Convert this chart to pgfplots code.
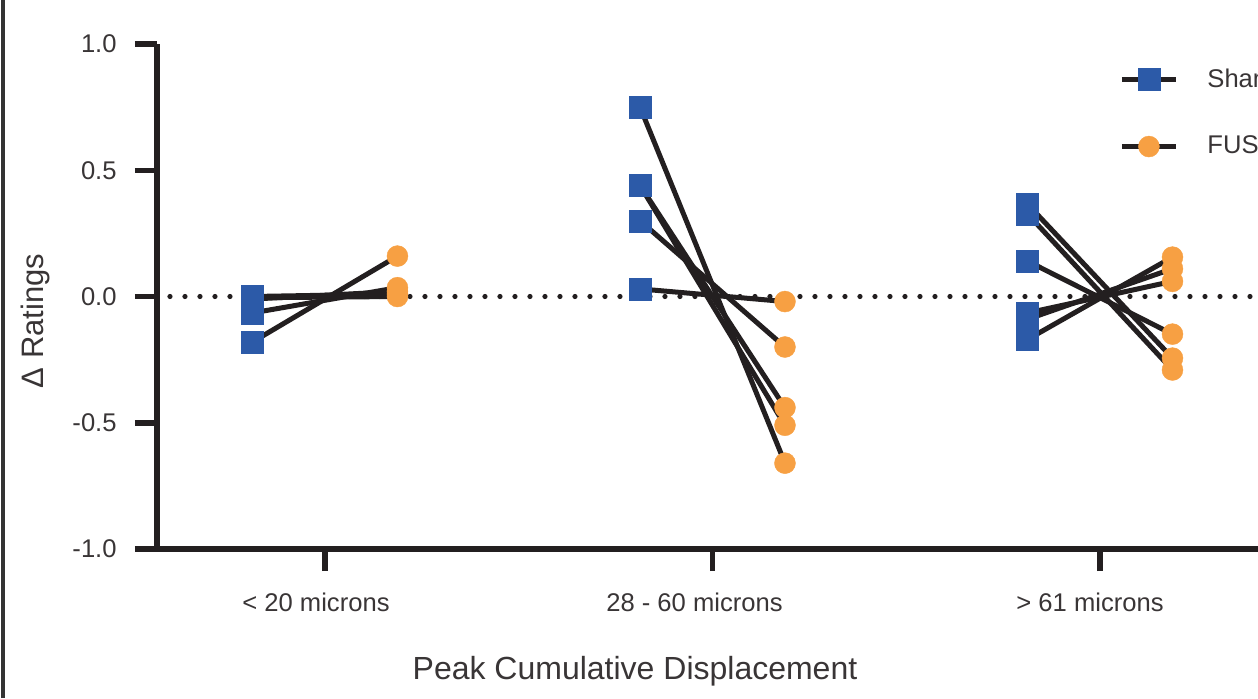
\documentclass[border=0pt]{standalone}
\usepackage{fontspec}
\setmainfont{Liberation Sans}
\usepackage{pgfplots}
\pgfplotsset{compat=1.18}
\definecolor{shamblue}{HTML}{2C5AA8}
\definecolor{fusorange}{HTML}{F7A043}
\definecolor{linek}{HTML}{231F20}
\begin{document}
\begin{tikzpicture}[x=1pt,y=1pt]
\path[use as bounding box] (0,0) rectangle (629,349);
\clip (0,0) rectangle (629,349);
\draw[line width=2pt, color=black!80] (1.6,0) -- (1.6,349);
\begin{axis}[
  at={(78.5pt,74.5pt)}, anchor=south west,
  scale only axis, width=555.5pt, height=252.5pt,
  xmin=-0.4335, xmax=2.4335, ymin=-1, ymax=1,
  axis x line*=bottom, axis y line*=left,
  axis line style={line width=2.75pt, color=linek},
  tick align=outside, major tick length=11pt,
  major tick style={line width=2.75pt, color=linek},
  minor tick num=0,
  xtick={0,1,2},
  xticklabels={\hspace*{-9pt}< 20 microns, \hspace*{-18pt}28 - 60 microns, \hspace*{-10pt}> 61 microns},
  ytick={-1,-0.5,0,0.5,1},
  yticklabels={-1.0,-0.5,0.0,0.5,1.0},
  ticklabel style={font=\fontsize{12.8}{15}\selectfont, color=linek!90},
  yticklabel style={anchor=east, inner sep=0pt, xshift=-9pt},
  xticklabel style={anchor=north, inner sep=0pt, yshift=-11pt},
  legend style={draw=none, fill=none, at={(0.8605,0.968)}, anchor=north west,
    font=\fontsize{12.8}{15}\selectfont, row sep=19pt, column sep=12.5pt,
    text=linek!90},
  legend cell align=left,
  legend image code/.code={
    \draw[linek, line width=2.5pt] (0pt,0pt) -- (27pt,0pt);
    \draw[#1] plot coordinates {(13.5pt,0pt)};
  },
  clip=false,
]
\draw[linek, line width=2.6pt, line cap=round, dash pattern=on 0pt off 7.5pt]
  (axis cs:-0.40,0) -- (axis cs:2.4335,0);
% group 1: < 20 microns
\addplot[linek, line width=2.5pt, no marks, forget plot] coordinates {(-0.187,-0.18) (0.187,0.16)};
\addplot[linek, line width=2.5pt, no marks, forget plot] coordinates {(-0.187,-0.065) (0.187,0.035)};
\addplot[linek, line width=2.5pt, no marks, forget plot] coordinates {(-0.187,-0.01) (0.187,0.02)};
\addplot[linek, line width=2.5pt, no marks, forget plot] coordinates {(-0.187,-0.005) (0.187,0.0)};
\addplot[linek, line width=2.5pt, no marks, forget plot] coordinates {(-0.187,0.0) (0.187,0.01)};
% group 2: 28 - 60 microns
\addplot[linek, line width=2.5pt, no marks, forget plot] coordinates {(0.813,0.75) (1.187,-0.66)};
\addplot[linek, line width=2.5pt, no marks, forget plot] coordinates {(0.813,0.44) (1.187,-0.51)};
\addplot[linek, line width=2.5pt, no marks, forget plot] coordinates {(0.813,0.44) (1.187,-0.44)};
\addplot[linek, line width=2.5pt, no marks, forget plot] coordinates {(0.813,0.30) (1.187,-0.20)};
\addplot[linek, line width=2.5pt, no marks, forget plot] coordinates {(0.813,0.03) (1.187,-0.02)};
% group 3: > 61 microns
\addplot[linek, line width=2.5pt, no marks, forget plot] coordinates {(1.813,0.366) (2.187,-0.244)};
\addplot[linek, line width=2.5pt, no marks, forget plot] coordinates {(1.813,0.327) (2.187,-0.291)};
\addplot[linek, line width=2.5pt, no marks, forget plot] coordinates {(1.813,0.14) (2.187,-0.149)};
\addplot[linek, line width=2.5pt, no marks, forget plot] coordinates {(1.813,-0.065) (2.187,0.06)};
\addplot[linek, line width=2.5pt, no marks, forget plot] coordinates {(1.813,-0.09) (2.187,0.11)};
\addplot[linek, line width=2.5pt, no marks, forget plot] coordinates {(1.813,-0.17) (2.187,0.156)};
% markers
\addplot[only marks, mark=square*, color=shamblue, mark size=5.5pt, mark options={line width=0.2pt, fill=shamblue, draw=shamblue}] coordinates {
  (-0.187,-0.18) (-0.187,-0.065) (-0.187,-0.01) (-0.187,-0.005) (-0.187,0.0)
  (0.813,0.75) (0.813,0.44) (0.813,0.44) (0.813,0.30) (0.813,0.03)
  (1.813,0.366) (1.813,0.327) (1.813,0.14) (1.813,-0.065) (1.813,-0.09) (1.813,-0.17)
};
\addlegendentry{Sham}
\addplot[only marks, mark=*, color=fusorange, mark size=5.25pt, mark options={line width=0.2pt, fill=fusorange, draw=fusorange}] coordinates {
  (0.187,0.16) (0.187,0.035) (0.187,0.02) (0.187,0.0) (0.187,0.01)
  (1.187,-0.66) (1.187,-0.51) (1.187,-0.44) (1.187,-0.20) (1.187,-0.02)
  (2.187,-0.244) (2.187,-0.291) (2.187,-0.149) (2.187,0.06) (2.187,0.11) (2.187,0.156)
};
\addlegendentry{FUS}
\end{axis}
\node[anchor=base, font=\fontsize{16}{19}\selectfont, text=linek!90] at (317.5,9.5) {Peak Cumulative Displacement};
\node[anchor=base, rotate=90, font=\fontsize{15.5}{18}\selectfont, text=linek!90] at (21.5,188.5) {Δ Ratings};
\end{tikzpicture}
\end{document}
